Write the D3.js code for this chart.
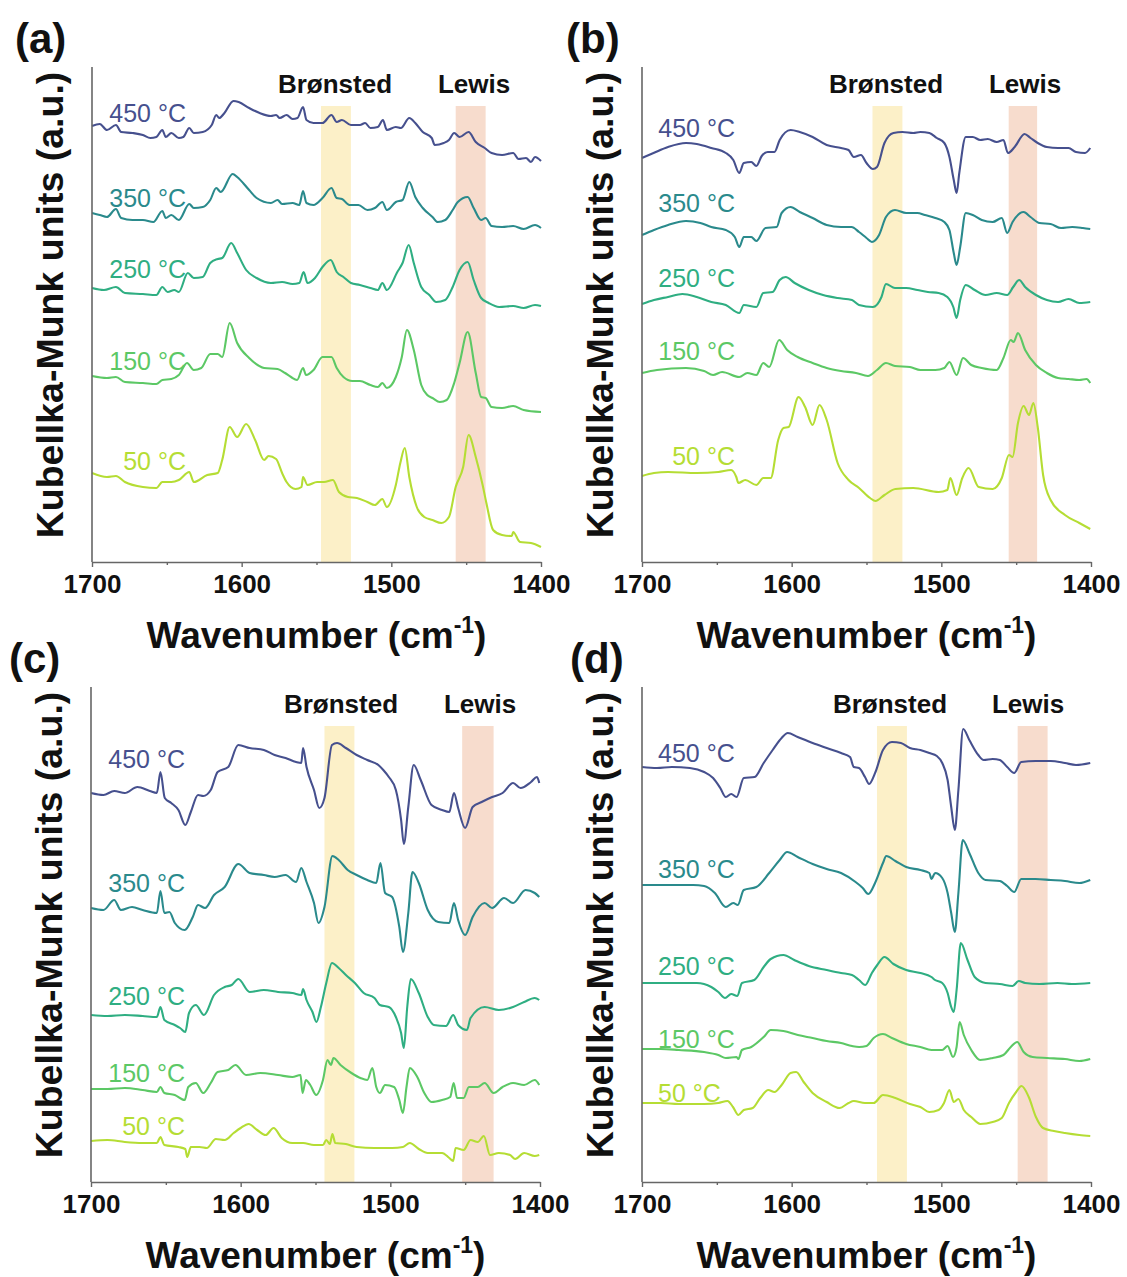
<!DOCTYPE html>
<html lang="en">
<head>
<meta charset="utf-8" />
<title>Pyridine DRIFTS spectra</title>
<script src="https://cdn.jsdelivr.net/npm/d3@7"></script>
<style>
  body { margin: 0; background: #fff; }
  svg { display: block; font-family: "Liberation Sans", Arial, sans-serif; }
</style>
</head>
<body>
<svg id="chart" width="1127" height="1277"></svg>
<script>
// axis and labels
var majorTicks = [1700, 1600, 1500, 1400];
var minorTicks = [1650, 1550, 1450];
var temps = ["450 °C", "350 °C", "250 °C", "150 °C", "50 °C"];
var tempColors = ["#46508e", "#2a8a8c", "#2fae82", "#5cc865", "#b5dd34"];

// acid site bands [from, to] in cm-1, panels a-d
var bronstedBands = [[1547, 1527], [1546, 1526], [1544, 1524], [1543, 1523]];
var lewisBands = [[1457, 1437], [1455, 1436], [1452, 1431], [1449, 1429]];

// spectra, [wavenumber, K-M (a.u., offset)]
var a450 = [[1700,43.6],[1694.8,43.8],[1690,43.2],[1684,43.7],[1680.5,43.0],[1673,42.9],[1666,42.7],[1661,42.4],[1657,42.5],[1653,43.2],[1650.7,42.5],[1647,42.9],[1642,42.4],[1639,42.5],[1635,43.4],[1632,42.9],[1626,43.0],[1620,43.7],[1617,44.7],[1615,44.4],[1611.5,44.9],[1605.5,46.1],[1602,46.0],[1595,45.4],[1588,44.9],[1580.5,44.6],[1577,44.7],[1574.6,44.4],[1570,44.7],[1566,44.3],[1562.7,44.4],[1559,45.5],[1556.7,44.2],[1552,43.9],[1546,43.9],[1540,44.7],[1536.5,44.0],[1533,44.2],[1527,43.7],[1521,43.7],[1517.5,43.9],[1514,43.4],[1509,43.5],[1505.6,44.2],[1503,43.2],[1497,43.5],[1493.6,43.4],[1488,44.4],[1484,43.9],[1479,43.0],[1473,42.4],[1471,41.7],[1465,41.9],[1461.5,42.2],[1458,42.9],[1454.4,42.5],[1448.4,43.0],[1443.6,42.0],[1437.6,41.4],[1433,40.9],[1426,40.7],[1418.6,40.9],[1415,40.3],[1410,40.4],[1406.7,40.0],[1404,40.5],[1400,40.1]];
var a350 = [[1700,34.9],[1694.8,34.7],[1690,34.5],[1684,35.3],[1680.5,34.4],[1673,34.2],[1666,34.2],[1659,34.0],[1653,35.1],[1650.7,34.4],[1647,34.7],[1642,34.2],[1635,35.8],[1632,35.4],[1626,35.5],[1621,36.2],[1617,37.4],[1614,37.0],[1606,38.8],[1603,38.5],[1595,37.2],[1590,36.4],[1580.5,35.9],[1576,36.2],[1573,35.8],[1566,35.9],[1561.5,35.7],[1559,37.1],[1556.7,35.9],[1552,35.7],[1546,36.4],[1540,37.4],[1536.5,36.4],[1533,36.3],[1528,35.7],[1522,35.7],[1516,35.2],[1511,35.4],[1506,36.0],[1503,35.2],[1497,36.0],[1492.5,36.2],[1488,38.0],[1484,36.5],[1479,35.4],[1472.5,34.5],[1469,34.0],[1464,34.2],[1459,35.2],[1455.6,36.0],[1449,36.5],[1445,35.4],[1440,34.2],[1437,34.4],[1433,33.6],[1426,33.5],[1418.6,33.6],[1411.6,33.3],[1404,33.7],[1400,33.4]];
var a250 = [[1700,27.4],[1692,27.2],[1684,27.5],[1678,26.9],[1666,26.8],[1657,26.7],[1653,27.5],[1649.5,27.0],[1645,27.2],[1642,27.0],[1636,28.9],[1632,28.4],[1626,28.5],[1621,29.9],[1616,30.3],[1613,30.4],[1607,31.9],[1603,30.9],[1597,29.2],[1590,28.4],[1580.5,27.9],[1573,28.0],[1566,27.8],[1561.5,27.9],[1558.6,29.0],[1556,27.9],[1551,28.4],[1546,29.5],[1540.5,30.2],[1536.5,29.0],[1532,28.5],[1527,27.9],[1521,27.7],[1514,27.4],[1509,27.2],[1506,27.9],[1503,27.2],[1496,29.0],[1492.5,29.9],[1488.4,31.7],[1485,29.9],[1480,27.5],[1474.6,26.7],[1470,26.0],[1464,26.2],[1459,27.5],[1454.4,29.2],[1449,30.0],[1445,28.2],[1440,26.4],[1435,25.9],[1428,25.5],[1418.6,25.6],[1411.6,25.4],[1404,25.7],[1400,25.6]];
var a150 = [[1700,18.6],[1690,18.4],[1684,18.5],[1678,18.0],[1666,17.9],[1657,17.8],[1653,18.2],[1647,18.3],[1642,18.7],[1636.5,19.9],[1632,19.2],[1627,19.4],[1621,20.8],[1616,20.8],[1613,20.5],[1608,23.9],[1603,21.9],[1595,20.4],[1585,19.4],[1576,19.3],[1571,18.9],[1567,18.5],[1563,18.2],[1559,19.4],[1557,18.7],[1552,19.2],[1546,20.5],[1540,20.5],[1536.5,19.4],[1532,18.5],[1526,18.1],[1521,18.1],[1514,17.7],[1509,17.5],[1506,17.9],[1503,17.4],[1497,18.5],[1493,20.5],[1489.6,23.2],[1485,21.2],[1480,17.7],[1476,16.7],[1472.5,16.4],[1467.6,16.0],[1463,16.2],[1458,17.9],[1454.4,19.9],[1449,23.0],[1443.6,18.9],[1440,16.5],[1437,16.4],[1433,15.5],[1426,15.4],[1418.6,15.6],[1411.6,15.2],[1400,15.0]];
var a50 = [[1700,8.9],[1690,8.5],[1684,8.6],[1678,8.0],[1666,7.5],[1657,7.4],[1653,8.0],[1647,8.0],[1642,8.2],[1635,9.0],[1632,8.0],[1623,8.7],[1616,8.9],[1613,10.2],[1608,13.5],[1603,12.5],[1597,13.8],[1591,12.2],[1585,10.2],[1582,10.6],[1577,10.3],[1573,8.9],[1570,8.0],[1564,7.3],[1560,7.5],[1559,8.5],[1556,7.7],[1549.6,8.0],[1545,8.0],[1539,8.2],[1535,7.0],[1529,6.5],[1523,6.4],[1516,6.0],[1511,5.7],[1506,6.3],[1503,5.5],[1497,7.7],[1494,9.9],[1491,11.4],[1488,8.5],[1483,5.5],[1478,4.5],[1472.5,4.2],[1466.6,3.9],[1461.5,4.5],[1457,7.5],[1452,9.5],[1448.4,12.7],[1443.6,10.5],[1439,7.7],[1436.5,5.9],[1432,3.2],[1426,2.7],[1419.5,2.6],[1418.6,3.0],[1414,2.0],[1406.7,1.9],[1400,1.5]];

var b450 = [[1700,40.4],[1692.3,40.9],[1682.6,41.5],[1670.6,41.9],[1663.4,41.8],[1653.7,41.4],[1644,40.9],[1639,40.2],[1635,38.9],[1632,39.9],[1627,40.0],[1623.6,39.6],[1620,40.6],[1616,41.0],[1611.5,41.0],[1608,42.2],[1600.7,43.2],[1594.6,43.0],[1586,42.5],[1576.6,41.7],[1567,41.4],[1562,41.2],[1558.5,40.5],[1553.7,40.7],[1550,39.9],[1545.7,39.3],[1543,39.5],[1538,41.9],[1532,42.9],[1526,43.0],[1518.7,42.9],[1514,43.0],[1508,42.9],[1503,42.4],[1498,41.9],[1494.6,40.5],[1491.7,38.2],[1489.8,36.9],[1488,38.9],[1483.7,42.5],[1479,42.5],[1474,42.2],[1469,42.3],[1463,42.0],[1458.5,42.2],[1455.5,40.9],[1451,41.5],[1444.4,42.8],[1440.4,42.4],[1435.6,41.9],[1429.5,41.5],[1422,41.4],[1415,41.4],[1410,41.0],[1404,40.9],[1400.5,41.4]];
var b350 = [[1700,32.7],[1692,33.2],[1682.6,33.7],[1670.6,34.1],[1661,33.9],[1653.7,33.5],[1644,33.2],[1638,32.5],[1635,31.5],[1632,32.5],[1627,32.5],[1623.6,32.1],[1617.5,33.4],[1610,33.5],[1606.7,34.9],[1600.7,35.5],[1594.6,35.0],[1586,34.4],[1576.6,33.7],[1567,33.5],[1560,33.5],[1555,33.0],[1550,32.4],[1546.4,32.0],[1541.6,32.7],[1537,34.5],[1531,35.2],[1523.5,34.9],[1516,34.9],[1511,34.7],[1504,34.4],[1498,34.0],[1494.6,33.2],[1491.7,30.9],[1489.8,29.7],[1487.4,31.5],[1483.7,34.9],[1479,34.7],[1473,34.2],[1465.7,34.0],[1459.6,34.4],[1456,32.9],[1452.4,34.0],[1445,35.0],[1440.4,34.5],[1434.4,33.9],[1427,33.8],[1420,33.4],[1412.6,33.5],[1405.4,33.4],[1400.5,33.3]];
var b250 = [[1700,25.8],[1692,26.2],[1682.6,26.5],[1673,26.8],[1663.4,26.5],[1653.7,26.0],[1644,25.7],[1635,24.9],[1632,25.7],[1623.6,25.5],[1619,26.9],[1612.7,27.0],[1608,28.2],[1604,28.5],[1598,27.9],[1588.6,27.2],[1579,26.7],[1569.3,26.4],[1559.7,26.2],[1555,25.7],[1545.7,25.5],[1540,26.5],[1537,27.8],[1531,27.4],[1523.5,27.4],[1516,27.2],[1509,27.0],[1501.8,26.9],[1496,26.5],[1492,25.5],[1489.8,24.4],[1487.4,26.2],[1483.7,27.7],[1477.7,27.2],[1470.5,26.7],[1463,26.9],[1456,26.7],[1452,27.5],[1448,28.2],[1444,27.5],[1436.8,26.7],[1429.5,26.2],[1422,26.0],[1415,26.3],[1407.8,25.9],[1400.5,26.0]];
var b150 = [[1700,18.9],[1690,19.2],[1670.6,19.4],[1658.5,19.1],[1652.5,18.7],[1646.5,19.0],[1635,18.5],[1629.6,18.9],[1623.6,18.7],[1619,19.9],[1615,19.5],[1608.4,22.2],[1603,21.2],[1596,20.5],[1586,19.9],[1576.6,19.4],[1567,19.1],[1557,18.9],[1549,18.6],[1543,19.2],[1537,19.9],[1531,19.6],[1521,19.5],[1514,19.2],[1504,19.2],[1498,19.4],[1494.6,20.0],[1489.8,18.7],[1485.5,20.4],[1480,19.7],[1473,19.4],[1463,19.2],[1458.5,20.4],[1453.6,22.2],[1451.7,22.0],[1448.8,22.9],[1444,21.2],[1436.8,19.7],[1429.5,18.9],[1422,18.4],[1415,18.3],[1407.8,18.2],[1403,18.3],[1400.5,17.9]];
var b50 = [[1700,8.6],[1692,8.9],[1682.6,9.0],[1663.4,8.9],[1649,9.0],[1640.4,9.2],[1637,8.5],[1635.6,7.9],[1631,8.2],[1623.6,7.7],[1619,8.4],[1614,8.4],[1609,12.2],[1605.5,13.4],[1602,13.5],[1595.4,16.5],[1591,15.5],[1586,13.7],[1581.4,15.7],[1576.6,14.2],[1569.3,9.9],[1562,8.2],[1555,7.4],[1547.6,6.4],[1544,6.1],[1538,6.7],[1530.7,7.3],[1518.7,7.4],[1501.8,7.0],[1496,7.2],[1494,8.4],[1489.8,6.7],[1486,8.4],[1481.8,9.4],[1475,7.5],[1465.7,7.3],[1459.6,8.4],[1454.8,10.7],[1452.4,10.5],[1448.8,13.9],[1445,15.6],[1441.4,14.7],[1438.5,15.9],[1435.6,13.5],[1432,8.7],[1427,6.2],[1417.4,4.7],[1407.8,3.9],[1400.5,3.3]];

var c450 = [[1700,38.9],[1691.7,38.7],[1684.5,39.1],[1677.4,38.9],[1669,39.5],[1660.7,39.1],[1656,38.9],[1653.6,41.0],[1650.7,38.4],[1646.4,37.9],[1641.6,37.2],[1637,35.7],[1633.3,37.0],[1628.5,38.7],[1625,38.6],[1620,39.2],[1615.4,41.0],[1608.3,41.5],[1601.6,43.7],[1594,43.4],[1584.5,43.2],[1577.3,42.7],[1570,42.4],[1563,42.0],[1559.5,41.9],[1558.3,43.4],[1556,41.5],[1551,39.2],[1547.5,37.4],[1544,38.4],[1539,43.7],[1535.6,43.9],[1529.7,43.4],[1522.5,42.7],[1515.4,42.2],[1508,41.7],[1504.7,41.2],[1501,40.5],[1496.3,39.2],[1492.8,36.2],[1491,33.8],[1488,37.5],[1484.4,41.7],[1479.7,40.2],[1472.5,37.7],[1465.4,37.2],[1460.6,37.0],[1457.5,38.9],[1454.7,37.4],[1450,35.4],[1445,37.5],[1439,38.0],[1432,38.5],[1425,38.9],[1418,39.9],[1413,39.4],[1406,40.0],[1402,40.5],[1400.5,39.9]];
var c350 = [[1700,27.4],[1691.7,27.2],[1684.5,28.2],[1680,27.2],[1672.6,27.5],[1665.5,27.2],[1656,26.9],[1653.6,29.1],[1651,26.9],[1647.6,27.0],[1644,25.9],[1637.4,25.2],[1632,26.5],[1628.5,27.7],[1623.8,27.4],[1617.8,28.7],[1610.7,29.5],[1601.6,31.8],[1594,30.9],[1584.5,30.7],[1577.3,30.5],[1570,30.7],[1563,30.0],[1559.5,31.4],[1556,30.0],[1551,27.9],[1548,25.9],[1544,27.5],[1538.7,32.6],[1534.5,32.2],[1528.5,31.2],[1522.5,30.7],[1515.4,30.2],[1509.4,29.9],[1506.6,31.9],[1503.5,28.9],[1498.8,28.5],[1494,25.5],[1491.6,23.0],[1488,26.9],[1485.2,31.0],[1481,29.9],[1475,27.2],[1468,26.0],[1460.6,25.9],[1457.5,27.9],[1454.7,26.2],[1450,24.7],[1445,26.5],[1437,27.9],[1432,27.4],[1424,28.4],[1418,27.9],[1409.7,29.2],[1403.5,28.9],[1400.5,28.5]];
var c250 = [[1700,16.7],[1689,16.6],[1677.4,16.7],[1665.5,16.6],[1656,16.5],[1653.6,17.5],[1651,16.2],[1644,15.7],[1640.5,15.4],[1637,15.0],[1634.5,16.9],[1630,17.7],[1624.5,16.7],[1617.8,18.7],[1610.7,19.5],[1606,19.7],[1601.6,20.3],[1594,19.0],[1584.5,19.2],[1575,19.0],[1565.5,18.9],[1559.5,18.7],[1558.3,19.3],[1556,18.2],[1552,17.0],[1549.4,16.0],[1546.4,17.5],[1542.8,19.9],[1539,21.9],[1534.5,21.4],[1529.7,20.7],[1523.7,19.9],[1517.8,18.9],[1510.6,18.4],[1507,17.7],[1501,17.5],[1496.3,16.5],[1492.8,14.9],[1491,13.4],[1488.7,17.5],[1486.3,20.3],[1481,18.9],[1475,16.5],[1471,15.7],[1462.8,15.6],[1458,16.7],[1454.7,15.7],[1448.8,15.2],[1446.4,16.4],[1437,17.5],[1427.5,17.2],[1418,17.5],[1410.6,18.0],[1403.5,18.4],[1400.5,18.2]];
var c150 = [[1700,9.3],[1689,9.3],[1677.4,9.4],[1665.5,9.2],[1656,9.0],[1653.6,9.5],[1651,8.9],[1644,8.7],[1637.4,8.2],[1635,9.5],[1630,9.9],[1625,8.9],[1620,9.9],[1615.4,11.0],[1608.3,11.2],[1603.5,11.7],[1596.4,10.7],[1586.9,10.9],[1575,10.7],[1565.5,10.5],[1560,10.7],[1558.7,8.9],[1556.4,10.2],[1553.5,9.7],[1549.5,8.7],[1545,10.2],[1542,12.2],[1539.7,11.7],[1538,12.4],[1533.3,11.7],[1526,10.9],[1520,10.4],[1515.4,10.2],[1512,11.4],[1509.4,9.5],[1507,8.9],[1503.5,9.7],[1497.5,9.5],[1494,8.2],[1491.6,6.9],[1489.2,9.5],[1487,11.4],[1482,10.5],[1477.3,8.9],[1472.5,8.0],[1465.4,8.2],[1460,8.5],[1457.7,9.9],[1455.4,8.4],[1451,8.4],[1447.5,9.5],[1441.6,9.5],[1437,9.9],[1431,8.9],[1425,9.5],[1418,9.9],[1410.6,9.7],[1403.5,10.2],[1400.5,9.7]];
var c50 = [[1700,4.1],[1689,4.2],[1677.4,4.0],[1665.5,3.9],[1656,3.9],[1653.6,4.5],[1651,3.7],[1641.6,3.5],[1637,3.3],[1635.7,2.5],[1633.3,3.5],[1627.4,3.5],[1622.6,3.4],[1616.6,4.3],[1610.7,4.2],[1604.7,4.9],[1600,5.4],[1594.7,5.8],[1589,5.2],[1583.3,4.7],[1578,5.4],[1572.6,4.4],[1565.5,3.9],[1558.3,3.9],[1551,3.7],[1545,3.7],[1542.8,4.2],[1540.4,3.8],[1538.7,4.8],[1536.8,3.9],[1529.7,3.8],[1522.5,3.5],[1510.6,3.4],[1498.8,3.4],[1491.6,3.5],[1487,3.9],[1481,3.3],[1475,2.9],[1465.4,2.9],[1460.6,2.4],[1458,2.1],[1456.4,3.4],[1451,3.2],[1446.4,4.2],[1441.6,4.0],[1437.5,4.6],[1433.4,2.7],[1427.5,2.9],[1420,2.7],[1416.6,2.3],[1410.6,2.9],[1403.5,2.6],[1400.5,2.7]];

var d450 = [[1700,41.5],[1690,41.4],[1680,41.5],[1668,41.4],[1658.5,41.0],[1652.5,40.4],[1647.7,39.4],[1644,38.5],[1640.4,38.8],[1636.8,38.5],[1632,40.4],[1624.8,40.5],[1618.7,41.9],[1612.7,43.2],[1606.7,44.4],[1602.6,44.9],[1596,44.5],[1586,43.9],[1576.6,43.4],[1567,42.9],[1561,42.5],[1558.5,41.5],[1555,41.4],[1551,40.5],[1548.3,39.8],[1544,41.0],[1539,43.2],[1533,44.0],[1527,43.9],[1521,43.4],[1514,43.2],[1508,42.9],[1503,42.6],[1499.4,41.9],[1495.8,40.2],[1493.4,37.5],[1491,35.2],[1488.6,39.2],[1485.4,45.3],[1481.3,44.2],[1475.3,42.7],[1471.7,42.2],[1465.7,42.3],[1460.9,42.2],[1456,41.5],[1451.3,40.9],[1446.6,42.0],[1437,42.1],[1427,42.1],[1417.4,41.9],[1410,41.7],[1400.5,41.9]];
var d350 = [[1700,29.7],[1690,29.7],[1678,29.7],[1665.8,29.7],[1658.5,29.6],[1651.3,28.9],[1644,27.5],[1639,27.9],[1636,27.7],[1632,29.2],[1623.6,29.5],[1615,30.9],[1608,32.2],[1603,33.0],[1596,32.5],[1586,31.8],[1576.6,31.3],[1567,30.9],[1557.3,30.0],[1552.5,29.4],[1548.8,28.8],[1544,30.0],[1539,31.9],[1536.8,32.6],[1530.7,32.1],[1523.5,31.5],[1514,31.2],[1508,30.9],[1506.6,30.3],[1504.2,30.9],[1499.4,30.4],[1495.8,28.9],[1493.4,26.9],[1491,25.0],[1488.6,28.9],[1485.7,34.2],[1481.3,32.9],[1475.3,30.9],[1470.5,30.2],[1460.9,30.1],[1456,29.6],[1451.3,29.0],[1446.6,30.3],[1437,30.3],[1427,30.2],[1417.4,30.1],[1407.8,29.9],[1400.5,30.2]];
var d250 = [[1700,19.9],[1687.5,19.9],[1675.4,19.9],[1663.4,19.9],[1653.7,19.5],[1649,19.0],[1644.5,18.4],[1640.4,18.8],[1636.3,18.6],[1633.2,19.9],[1625,20.2],[1618.7,21.5],[1614,22.3],[1605.5,22.7],[1598.3,22.2],[1588.6,21.6],[1576.6,21.2],[1567,20.9],[1559.7,20.7],[1555,20.2],[1550.8,19.7],[1546.4,20.9],[1542.8,21.7],[1538,22.5],[1532,21.8],[1523.5,21.2],[1514,20.9],[1506.6,20.5],[1504.2,20.2],[1499.4,19.9],[1495.8,18.9],[1493.4,17.5],[1491.7,17.0],[1489.8,19.2],[1487,23.9],[1482.5,22.2],[1477.7,20.5],[1470.5,19.9],[1460.9,19.8],[1452.4,19.6],[1448.3,20.1],[1444,19.9],[1434.4,19.8],[1422.4,19.9],[1412.7,19.8],[1400.5,19.9]];
var d150 = [[1700,13.3],[1687.5,13.3],[1675.4,13.2],[1658.5,13.0],[1649,12.7],[1644,12.4],[1636.8,12.5],[1635.6,12.3],[1633.2,13.2],[1627,13.5],[1618.7,14.5],[1614,15.2],[1605.5,15.1],[1595.9,14.7],[1586,14.4],[1576.6,14.1],[1567,13.9],[1559.7,13.6],[1555,13.5],[1550,13.6],[1545.2,14.4],[1539,14.8],[1533,14.4],[1523.5,13.8],[1514,13.5],[1506.6,13.2],[1499.4,13.2],[1495.8,13.6],[1492.2,12.5],[1489.8,13.5],[1487.8,16.0],[1485,14.7],[1480,13.2],[1474,12.2],[1465.7,12.4],[1458.5,12.7],[1453.6,13.5],[1449.3,14.0],[1445,13.0],[1439,12.5],[1429.5,12.4],[1417.4,12.3],[1407.8,12.1],[1400.5,12.3]];
var d50 = [[1700,7.9],[1687.5,7.9],[1675.4,7.8],[1658.5,7.8],[1649,7.9],[1642.9,8.1],[1639.2,7.5],[1635.6,6.7],[1632,7.2],[1626,7.4],[1621,8.4],[1615.6,9.2],[1611.5,9.0],[1606.7,9.7],[1600.7,10.9],[1597,11.0],[1592,10.0],[1586,8.9],[1576.6,8.0],[1568,7.4],[1562,7.9],[1558.5,8.1],[1551,7.9],[1545.2,7.9],[1539,8.7],[1530.7,8.4],[1521,7.8],[1514,7.5],[1508,7.0],[1501.8,7.2],[1498.2,7.9],[1494.6,9.2],[1491.7,8.0],[1488.6,8.3],[1485,7.2],[1480,6.5],[1474,5.8],[1465.7,6.0],[1459.6,6.4],[1454.8,7.9],[1450,9.0],[1446.4,9.6],[1441.6,8.5],[1436.8,6.5],[1432,5.4],[1424.8,5.1],[1417.4,4.9],[1407.8,4.7],[1400.5,4.6]];

// layout of the four panels (pixels)
var panels = [
  { tag: "(a)", tagX: 15,  x0: 92,  x1: 541,  dy: 0,   spectra: [a450, a350, a250, a150, a50],
    labAnchor: "end", labX: 186, labY: [122, 207, 278, 370, 470], bx: 335, lxc: 474 },
  { tag: "(b)", tagX: 566, x0: 642, x1: 1091, dy: 0,   spectra: [b450, b350, b250, b150, b50],
    labAnchor: "end", labX: 735, labY: [137, 212, 287, 360, 465], bx: 886, lxc: 1025 },
  { tag: "(c)", tagX: 9,   x0: 91,  x1: 540,  dy: 620, spectra: [c450, c350, c250, c150, c50],
    labAnchor: "end", labX: 185, labY: [768, 892, 1005, 1082, 1135], bx: 341, lxc: 480 },
  { tag: "(d)", tagX: 570, x0: 642, x1: 1091, dy: 620, spectra: [d450, d350, d250, d150, d50],
    labAnchor: "start", labX: 658, labY: [762, 878, 975, 1048, 1102], bx: 890, lxc: 1028 }
];

var svg = d3.select("#chart");
var plotTop = 67, plotBottom = 562, bandTop = 106;

panels.forEach(function(p, i) {
  var top = plotTop + p.dy, bottom = plotBottom + p.dy;
  var x = d3.scaleLinear().domain([1700, 1400]).range([p.x0, p.x1]);
  var y = d3.scaleLinear().domain([0, (bottom - top) / 10]).range([bottom, top]);
  var g = svg.append("g");

  // shaded bands
  [[bronstedBands[i], "#fcf0c8"], [lewisBands[i], "#f7dccd"]].forEach(function(b) {
    g.append("rect")
      .attr("x", x(b[0][0]))
      .attr("width", x(b[0][1]) - x(b[0][0]))
      .attr("y", bandTop + p.dy)
      .attr("height", bottom - bandTop - p.dy)
      .attr("fill", b[1]);
  });

  // spectra
  var line = d3.line()
    .x(function(d) { return x(d[0]); })
    .y(function(d) { return y(d[1]); })
    .curve(d3.curveMonotoneX);
  p.spectra.forEach(function(s, k) {
    g.append("path").datum(s)
      .attr("d", line)
      .attr("fill", "none")
      .attr("stroke", tempColors[k])
      .attr("stroke-width", 2.1)
      .attr("stroke-linejoin", "round");
    g.append("text")
      .attr("x", p.labX).attr("y", p.labY[k])
      .attr("text-anchor", p.labAnchor)
      .attr("font-size", 25)
      .attr("fill", tempColors[k])
      .text(temps[k]);
  });

  // axes
  var xAxis = d3.axisBottom(x).tickValues(majorTicks).tickFormat(d3.format("d"))
    .tickSize(5).tickSizeOuter(0).tickPadding(8);
  var ax = g.append("g").attr("transform", "translate(0," + bottom + ")").call(xAxis);
  ax.select(".domain").attr("stroke", "#666").attr("stroke-width", 1.6);
  ax.selectAll(".tick line").attr("stroke", "#666").attr("stroke-width", 1.4);
  ax.selectAll(".tick text")
    .attr("font-size", 26).attr("font-weight", "bold").attr("fill", "#111")
    .attr("font-family", "'Liberation Sans', Arial, sans-serif");
  var minor = g.append("g").attr("transform", "translate(0," + bottom + ")")
    .call(d3.axisBottom(x).tickValues(minorTicks).tickSize(3).tickSizeOuter(0).tickFormat(""));
  minor.select(".domain").remove();
  minor.selectAll(".tick line").attr("stroke", "#666").attr("stroke-width", 1.4);

  g.append("line")
    .attr("x1", p.x0).attr("x2", p.x0)
    .attr("y1", top).attr("y2", bottom)
    .attr("stroke", "#666").attr("stroke-width", 1.6);

  // titles
  var xt = g.append("text")
    .attr("x", (p.x0 + p.x1) / 2).attr("y", 648 + p.dy)
    .attr("text-anchor", "middle")
    .attr("font-size", 37).attr("font-weight", "bold").attr("fill", "#111");
  xt.append("tspan").text("Wavenumber (cm");
  xt.append("tspan").attr("font-size", 23).attr("dy", -15).text("-1");
  xt.append("tspan").attr("dy", 15).text(")");

  g.append("text")
    .attr("transform", "translate(" + (p.x0 - 29) + "," + (305 + p.dy) + ") rotate(-90)")
    .attr("text-anchor", "middle")
    .attr("font-size", 37.5).attr("font-weight", "bold").attr("fill", "#111")
    .text("Kubellka-Munk units (a.u.)");

  g.append("text")
    .attr("x", p.tagX).attr("y", 53 + p.dy)
    .attr("font-size", 42).attr("font-weight", "bold").attr("fill", "#111")
    .text(p.tag);

  g.append("text").attr("x", p.bx).attr("y", 93 + p.dy)
    .attr("text-anchor", "middle").attr("font-size", 26).attr("font-weight", "bold").attr("fill", "#111")
    .text("Brønsted");
  g.append("text").attr("x", p.lxc).attr("y", 93 + p.dy)
    .attr("text-anchor", "middle").attr("font-size", 26).attr("font-weight", "bold").attr("fill", "#111")
    .text("Lewis");
});
</script>
</body>
</html>
